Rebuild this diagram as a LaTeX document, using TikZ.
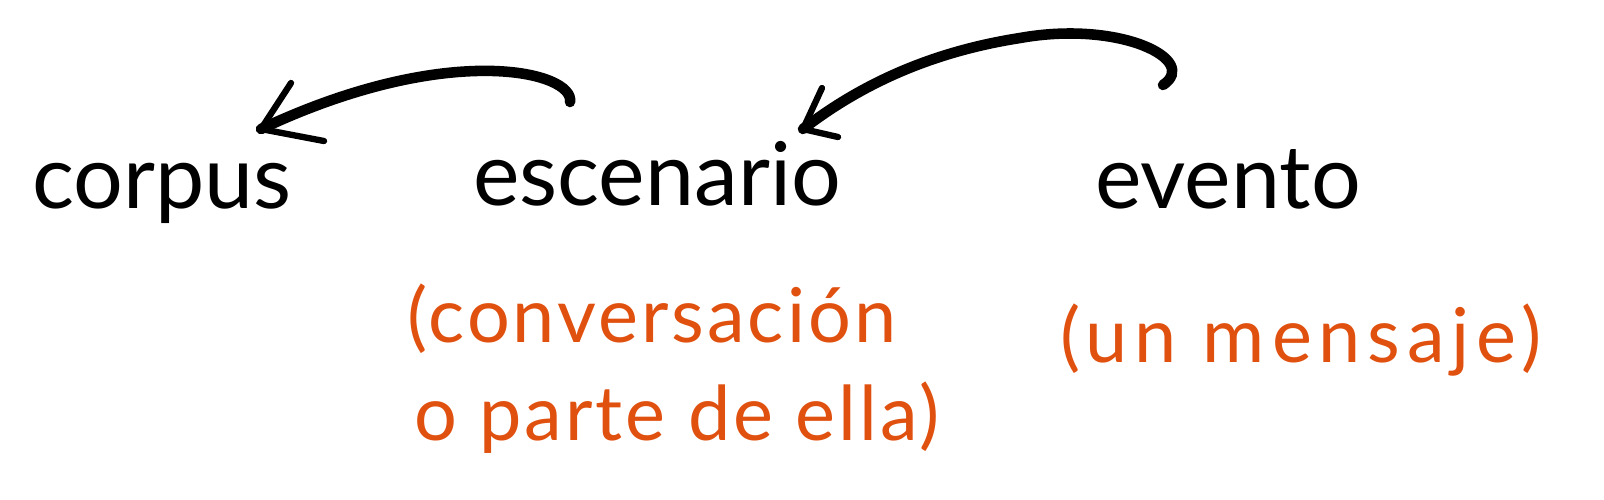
\documentclass[tikz,border=0pt]{standalone}
\usepackage{fontspec}
\setmainfont{Lato}
\definecolor{orng}{HTML}{E0500F}
\begin{document}
\begin{tikzpicture}[x=0.01cm,y=-0.01cm,
  word/.style={anchor=base,inner sep=0pt,font=\fontsize{25}{30}\selectfont},
  note/.style={anchor=base,inner sep=0pt,text=orng,font=\fontsize{21.5}{26}\selectfont\addfontfeature{LetterSpace=4}},
  shaft/.style={line width=3pt,line cap=round},
  barb/.style={line width=1.8pt,line cap=round}]
\useasboundingbox (0,0) rectangle (1604,499);
\node[word] (corpus) at (162,208) {corpus};
\node[word] (escenario) at (657,205) {escenario};
\node[word] (evento) at (1228,208) {evento};
\node[note] (conv) at (652,342) {(conversación};
\node[note] (parte) at (677,440) {o parte de ella)};
\node[note,font=\fontsize{21.5}{26}\selectfont\addfontfeature{LetterSpace=9}] (msg) at (1301,362) {(un mensaje)};
% arrow escenario -> corpus
\coordinate (s1) at (570,102);
\coordinate (t1) at (261,129);
\draw[shaft] (s1) .. controls (575,72) and (450,40) .. (t1);
\draw[barb] (t1) -- (291,83);
\draw[barb] (t1) -- (324,141);
% arrow evento -> escenario
\coordinate (s2) at (1163,85);
\coordinate (t2) at (803,129);
\draw[shaft] (s2) .. controls (1200,60) and (1120,20) .. (1020,38) .. controls (930,52) and (860,85) .. (t2);
\draw[barb] (t2) -- (822,88);
\draw[barb] (t2) -- (838,137);
\end{tikzpicture}
\end{document}
